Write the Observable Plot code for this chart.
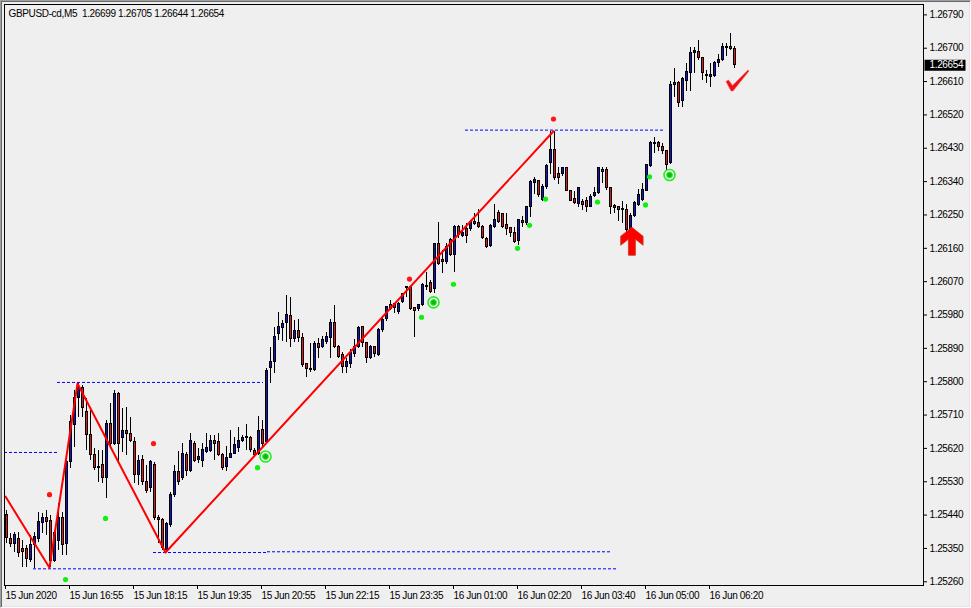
<!DOCTYPE html>
<html><head><meta charset="utf-8">
<script src="https://cdn.jsdelivr.net/npm/d3@7"></script>
<script src="https://cdn.jsdelivr.net/npm/@observablehq/plot@0.6"></script>
<style>
html,body{margin:0;padding:0;background:#efefef;}
#wrap{position:relative;width:971px;height:608px;overflow:hidden;}
#border{position:absolute;left:0;top:0;width:971px;height:608px;box-sizing:border-box;border-style:solid;border-width:1px;border-color:#a0a0a0 #ffffff #ffffff #a0a0a0;box-shadow:inset 1px 1px 0 #696969, inset -1px -1px 0 #e3e3e3;pointer-events:none;}
svg [aria-label="x-axis"] text, svg [aria-label="x-axis tick label"] text{text-anchor:start;}
</style>
</head><body>
<div id="wrap"><div id="chart"></div><div id="border"></div></div>
<script>
const symbolName = "GBPUSD-cd";
const timeframe = "M5";

const opens = [
1.25439,1.25376,1.25363,1.25376,1.25349,1.25349,1.25320,1.25358,1.25376,1.25420,
1.25431,1.25425,1.25317,1.25371,1.25431,1.25363,1.25582,1.25682,1.25755,1.25782,
1.25717,1.25655,1.25601,1.25571,1.25574,1.25539,1.25687,1.25633,1.25768,1.25647,
1.25666,1.25660,1.25636,1.25547,1.25590,1.25528,1.25514,1.25576,1.25433,1.25428,
1.25347,1.25412,1.25493,1.25555,1.25541,1.25601,1.25560,1.25633,1.25590,1.25587,
1.25609,1.25614,1.25641,1.25636,1.25601,1.25571,1.25595,1.25606,1.25622,1.25641,
1.25649,1.25649,1.25612,1.25606,1.25671,1.25636,1.25836,1.25852,1.25928,1.25944,
1.25958,1.25977,1.25914,1.25936,1.25917,1.25847,1.25833,1.25831,1.25901,1.25893,
1.25906,1.25917,1.25958,1.25895,1.25871,1.25839,1.25847,1.25874,1.25895,1.25947,
1.25904,1.25863,1.25893,1.25871,1.25939,1.25968,1.26006,1.26009,1.25987,1.26014,
1.26052,1.26055,1.25998,1.25995,1.26006,1.26058,1.26066,1.26050,1.26171,1.26128,
1.26123,1.26182,1.26141,1.26217,1.26193,1.26212,1.26212,1.26231,1.26228,1.26217,
1.26185,1.26166,1.26217,1.26255,1.26252,1.26222,1.26214,1.26201,1.26179,1.26233,
1.26228,1.26271,1.26336,1.26341,1.26290,1.26325,1.26390,1.26425,1.26360,1.26360,
1.26377,1.26314,1.26293,1.26279,1.26285,1.26287,1.26271,1.26301,1.26309,1.26371,
1.26371,1.26323,1.26274,1.26271,1.26266,1.26263,1.26209,1.26247,1.26277,1.26290,
1.26314,1.26382,1.26444,1.26444,1.26433,1.26422,1.26390,1.26606,1.26606,1.26558,
1.26612,1.26633,1.26687,1.26690,1.26674,1.26628,1.26622,1.26625,1.26660,1.26668,
1.26701,1.26703,1.26699];
const highs = [
1.25452,1.25390,1.25393,1.25393,1.25371,1.25358,1.25385,1.25393,1.25447,1.25444,
1.25452,1.25439,1.25398,1.25471,1.25447,1.25593,1.25709,1.25776,1.25795,1.25790,
1.25755,1.25731,1.25620,1.25614,1.25614,1.25695,1.25741,1.25776,1.25771,1.25728,
1.25731,1.25704,1.25649,1.25601,1.25601,1.25574,1.25587,1.25582,1.25439,1.25431,
1.25420,1.25501,1.25574,1.25612,1.25633,1.25609,1.25660,1.25639,1.25620,1.25633,
1.25660,1.25655,1.25655,1.25660,1.25606,1.25625,1.25668,1.25649,1.25676,1.25655,
1.25685,1.25652,1.25620,1.25706,1.25695,1.25836,1.25893,1.25947,1.25987,1.25966,
1.26033,1.26028,1.25966,1.25968,1.25931,1.25849,1.25904,1.25909,1.25917,1.25922,
1.25933,1.25968,1.26006,1.25898,1.25879,1.25863,1.25887,1.25914,1.25949,1.25949,
1.25906,1.25898,1.25895,1.25944,1.25974,1.26004,1.26020,1.26012,1.26014,1.26039,
1.26058,1.26058,1.26001,1.26009,1.26066,1.26096,1.26074,1.26174,1.26231,1.26155,
1.26174,1.26187,1.26222,1.26222,1.26222,1.26228,1.26236,1.26255,1.26266,1.26222,
1.26190,1.26225,1.26279,1.26263,1.26255,1.26255,1.26217,1.26217,1.26239,1.26247,
1.26274,1.26344,1.26350,1.26344,1.26331,1.26385,1.26476,1.26476,1.26377,1.26379,
1.26379,1.26317,1.26312,1.26325,1.26293,1.26298,1.26304,1.26323,1.26379,1.26379,
1.26377,1.26325,1.26279,1.26274,1.26285,1.26279,1.26255,1.26285,1.26320,1.26336,
1.26387,1.26447,1.26460,1.26447,1.26444,1.26425,1.26609,1.26644,1.26609,1.26622,
1.26660,1.26701,1.26703,1.26720,1.26676,1.26641,1.26660,1.26663,1.26682,1.26714,
1.26712,1.26741,1.26705];
const lows = [
1.25363,1.25352,1.25339,1.25325,1.25298,1.25298,1.25312,1.25295,1.25366,1.25390,
1.25385,1.25298,1.25312,1.25344,1.25331,1.25331,1.25566,1.25622,1.25704,1.25704,
1.25614,1.25587,1.25560,1.25528,1.25525,1.25485,1.25622,1.25628,1.25582,1.25609,
1.25601,1.25636,1.25525,1.25520,1.25520,1.25498,1.25501,1.25425,1.25363,1.25344,
1.25339,1.25406,1.25487,1.25520,1.25533,1.25544,1.25555,1.25582,1.25579,1.25568,
1.25606,1.25609,1.25587,1.25598,1.25560,1.25557,1.25593,1.25603,1.25609,1.25636,
1.25614,1.25609,1.25598,1.25601,1.25622,1.25633,1.25795,1.25822,1.25912,1.25909,
1.25906,1.25893,1.25906,1.25906,1.25839,1.25812,1.25825,1.25828,1.25863,1.25890,
1.25901,1.25863,1.25890,1.25863,1.25822,1.25822,1.25836,1.25866,1.25890,1.25893,
1.25849,1.25860,1.25866,1.25868,1.25933,1.25963,1.25993,1.25985,1.25982,1.26012,
1.26028,1.25993,1.25920,1.25990,1.26004,1.26047,1.26039,1.26039,1.26114,1.26093,
1.26117,1.26139,1.26096,1.26187,1.26190,1.26174,1.26206,1.26222,1.26214,1.26185,
1.26160,1.26163,1.26214,1.26228,1.26214,1.26195,1.26190,1.26174,1.26168,1.26217,
1.26222,1.26244,1.26304,1.26298,1.26285,1.26320,1.26360,1.26344,1.26331,1.26355,
1.26312,1.26285,1.26279,1.26269,1.26263,1.26258,1.26269,1.26298,1.26304,1.26336,
1.26317,1.26250,1.26255,1.26233,1.26228,1.26204,1.26206,1.26244,1.26274,1.26285,
1.26312,1.26379,1.26417,1.26420,1.26412,1.26366,1.26387,1.26568,1.26541,1.26541,
1.26582,1.26582,1.26633,1.26666,1.26614,1.26606,1.26593,1.26622,1.26647,1.26663,
1.26679,1.26693,1.26644];
const closes = [
1.25379,1.25363,1.25385,1.25339,1.25341,1.25322,1.25360,1.25382,1.25422,1.25433,
1.25422,1.25317,1.25393,1.25433,1.25358,1.25582,1.25690,1.25755,1.25782,1.25728,
1.25655,1.25601,1.25568,1.25568,1.25541,1.25687,1.25633,1.25768,1.25633,1.25668,
1.25660,1.25639,1.25549,1.25587,1.25528,1.25504,1.25582,1.25433,1.25428,1.25352,
1.25417,1.25495,1.25555,1.25528,1.25604,1.25560,1.25641,1.25587,1.25598,1.25617,
1.25622,1.25641,1.25633,1.25601,1.25568,1.25595,1.25606,1.25628,1.25641,1.25647,
1.25652,1.25617,1.25601,1.25668,1.25633,1.25828,1.25852,1.25922,1.25947,1.25955,
1.25979,1.25914,1.25936,1.25917,1.25844,1.25833,1.25831,1.25901,1.25890,1.25912,
1.25920,1.25958,1.25895,1.25866,1.25841,1.25852,1.25877,1.25895,1.25944,1.25904,
1.25863,1.25895,1.25874,1.25939,1.25966,1.26001,1.25995,1.25998,1.26009,1.26036,
1.26055,1.25995,1.25990,1.26006,1.26060,1.26055,1.26042,1.26171,1.26117,1.26123,
1.26163,1.26141,1.26217,1.26195,1.26201,1.26193,1.26231,1.26225,1.26217,1.26187,
1.26163,1.26220,1.26236,1.26231,1.26217,1.26212,1.26201,1.26177,1.26236,1.26228,
1.26271,1.26339,1.26344,1.26304,1.26325,1.26382,1.26425,1.26350,1.26350,1.26377,
1.26314,1.26287,1.26282,1.26323,1.26277,1.26271,1.26298,1.26309,1.26377,1.26366,
1.26323,1.26271,1.26269,1.26263,1.26263,1.26209,1.26247,1.26282,1.26304,1.26317,
1.26385,1.26444,1.26441,1.26433,1.26422,1.26385,1.26601,1.26601,1.26552,1.26617,
1.26636,1.26687,1.26693,1.26674,1.26633,1.26625,1.26628,1.26660,1.26668,1.26703,
1.26703,1.26699,1.26654];

// axis ticks
const xTickBars = [0,16,32,48,64,80,96,112,128,144,160,176];
const xTickLabels = ["15 Jun 2020","15 Jun 16:55","15 Jun 18:15","15 Jun 19:35","15 Jun 20:55","15 Jun 22:15","15 Jun 23:35","16 Jun 01:00","16 Jun 02:20","16 Jun 03:40","16 Jun 05:00","16 Jun 06:20"];
const yTicks = [1.25260,1.25350,1.25440,1.25530,1.25620,1.25710,1.25800,1.25890,1.25980,1.26070,1.26160,1.26250,1.26340,1.26430,1.26520,1.26610,1.26700,1.26790];

// zigzag
const zigBars = [0, 11, 18, 40, 137];
const zigPrices = [1.25490, 1.25298, 1.25795, 1.25339, 1.26476];

// dotted levels
const levelFrom  = [-0.25, 13, 115, 37, 65.5, 7];
const levelTo    = [13, 64.5, 165, 65.5, 151.75, 153];
const levelPrice = [1.25609, 1.25798, 1.26479, 1.25339, 1.25341, 1.25295];

// signal dots
const redDotBars = [11, 37, 101, 137];
const redDotPrices = [1.25495, 1.25633, 1.26077, 1.26509];
const greenDotBars = [15, 25, 63, 104, 112, 128, 131, 135, 148, 160, 161];
const greenDotPrices = [1.25266, 1.25431, 1.25568, 1.25974, 1.26063, 1.26160, 1.26222, 1.26293, 1.26285, 1.26277, 1.26353];
const ringBars = [65, 107, 166];
const ringPrices = [1.25598, 1.26014, 1.26358];
const arrowBar = [156.6];
const arrowPrice = [1.26179];
const checkBar = [183];
const checkPrice = [1.26613];

const yDomain = [1.25250, 1.26818];
const H = 608, W = 971, mT = 4, mB = 23, mL = 4, mR = 48;
const pxP = (yDomain[1] - yDomain[0]) / (H - mT - mB);

const bars = opens.map((o, i) => ({i, o, h: highs[i], l: lows[i], c: closes[i], hi: Math.max(o, closes[i]), lo: Math.min(o, closes[i])}));
const zig = zigBars.map((b, k) => ({x: b, y: zigPrices[k]}));
const levels = levelPrice.map((p, k) => ({a: levelFrom[k], b: levelTo[k], p}));
const redDots = redDotBars.map((b, k) => ({x: b, y: redDotPrices[k]}));
const greenDots = greenDotBars.map((b, k) => ({x: b, y: greenDotPrices[k]}));
const rings = ringBars.map((b, k) => ({x: b, y: ringPrices[k]}));
const arrows = arrowBar.map((b, k) => ({x: b, y: arrowPrice[k]}));
const checks = checkBar.map((b, k) => ({x: b, y: checkPrice[k]}));

const poly = pts => ({draw(ctx) { ctx.moveTo(pts[0][0], pts[0][1]); for (let k = 1; k < pts.length; k++) ctx.lineTo(pts[k][0], pts[k][1]); ctx.closePath(); }});
const arrowSym = poly([[0,-14],[11.2,-5],[11.2,4],[3.5,-2],[3.5,14],[-3.5,14],[-3.5,-2],[-11.2,4],[-11.2,-5]]);
const checkSym = poly([[-11.5,1],[-9,-0.5],[-5,5],[10.5,-10.5],[11.5,-9.5],[-4.5,10.5],[-6.5,10.5]]);
const boxSym = poly([[1,-5.5],[42,-5.5],[42,5.5],[1,5.5]]);

const last = bars[bars.length - 1];
const fmt = d => d.toFixed(5);
const header = `${symbolName},${timeframe}\u00a0 ${[last.o, last.h, last.l, last.c].map(fmt).join(" ")}`;

const BLUE = "#1414c0", RED = "#dc1a1a";
const bodyMin = 1.2 * pxP;

function render(fix) {
  return Plot.plot({
    width: W, height: H,
    marginTop: mT, marginBottom: mB, marginLeft: mL, marginRight: mR,
    style: {background: "#efefef", fontFamily: "'Liberation Sans', Arial, sans-serif", fontSize: "10px", letterSpacing: "-0.35px", color: "black", overflow: "visible"},
    x: {domain: [-0.25, 229.5], ticks: xTickBars, tickFormat: i => xTickLabels[xTickBars.indexOf(i)], tickSize: 4, tickPadding: 2, label: null},
    y: {domain: yDomain, axis: "right", ticks: yTicks, tickFormat: fmt, tickSize: 3, tickPadding: 3, label: null},
    marks: [
      Plot.ruleY(levels, {y: "p", x1: "a", x2: "b", stroke: "#0000ff", strokeWidth: 1, strokeDasharray: "3,2"}),
      Plot.ruleX(bars, {x: "i", y1: "l", y2: "h", stroke: "black", strokeWidth: 1, dx: fix, shapeRendering: "crispEdges"}),
      Plot.ruleX(bars, {x: "i", y1: d => d.hi + 0.5 * pxP, y2: d => d.lo - 0.5 * pxP, stroke: "black", strokeWidth: 3, dx: fix, shapeRendering: "crispEdges"}),
      Plot.ruleX(bars.filter(d => d.c >= d.o && d.hi - d.lo > bodyMin), {x: "i", y1: d => d.hi - 0.5 * pxP, y2: d => d.lo + 0.5 * pxP, stroke: BLUE, strokeWidth: 1, dx: fix, shapeRendering: "crispEdges"}),
      Plot.ruleX(bars.filter(d => d.c < d.o && d.hi - d.lo > bodyMin), {x: "i", y1: d => d.hi - 0.5 * pxP, y2: d => d.lo + 0.5 * pxP, stroke: RED, strokeWidth: 1, dx: fix, shapeRendering: "crispEdges"}),
      Plot.line(zig, {x: "x", y: "y", stroke: "#ff0000", strokeWidth: 2}),
      Plot.dot(redDots, {x: "x", y: "y", r: 2.6, fill: "#ff1515"}),
      Plot.dot(greenDots, {x: "x", y: "y", r: 2.6, fill: "#10f010"}),
      Plot.dot(rings, {x: "x", y: "y", r: 5.5, fill: "#f4fff4", stroke: "#22ee22", strokeWidth: 1.6}),
      Plot.dot(rings, {x: "x", y: "y", r: 3, fill: "#12b812", stroke: "#40f040", strokeWidth: 1}),
      Plot.dot(arrows, {x: "x", y: "y", symbol: arrowSym, fill: "#ff0000", stroke: "#c83c14", strokeWidth: 0.8}),
      Plot.dot(checks, {x: "x", y: "y", symbol: checkSym, fill: "#ee1111", stroke: "#ff5060", strokeWidth: 0.6}),
      Plot.dot([last.c], {y: d => d, frameAnchor: "right", symbol: boxSym, fill: "black", stroke: "none"}),
      Plot.text([last.c], {y: d => d, frameAnchor: "right", text: fmt, fill: "white", textAnchor: "start", dx: 6}),
      Plot.text([header], {frameAnchor: "top-left", text: d => d, dx: 4, dy: 5, lineAnchor: "top", textAnchor: "start", fill: "black"}),
      Plot.frame({stroke: "black"})
    ]
  });
}

// make sure the candle rules land on whole pixels, whatever offset the library applies
let chart = render(0);
let tx = 0;
const firstRule = chart.querySelector('g[aria-label="rule"]');
if (firstRule) {
  const m = /translate\(\s*([-\d.]+)/.exec(firstRule.getAttribute("transform") || "");
  if (m) tx = +m[1];
}
const frac = ((tx % 1) + 1) % 1;
if (Math.abs(frac - 0.5) > 0.01) chart = render(0.5 - frac);
document.getElementById("chart").appendChild(chart);
</script>
</body></html>
